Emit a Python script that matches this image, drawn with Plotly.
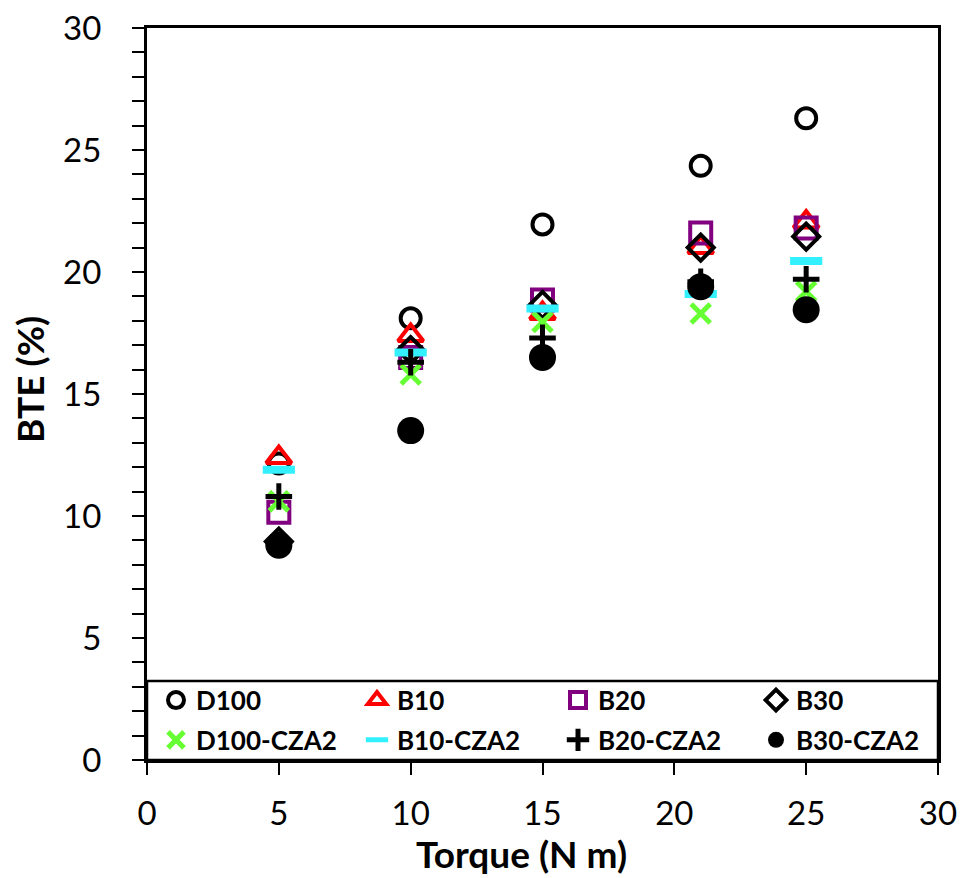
import plotly.graph_objects as go

torque = [5, 10, 15, 21, 25]
names = ["D100", "B10", "B20", "B30", "D100-CZA2", "B10-CZA2", "B20-CZA2", "B30-CZA2"]
d100 = [12.15, 18.1, 21.95, 24.35, 26.3]
b10 = [12.4, 17.4, 18.3, 21.0, 22.05]
b20 = [10.15, 16.5, 18.85, 21.6, 21.8]
b30 = [8.95, 16.8, 18.65, 21.0, 21.45]
d100_cza2 = [10.6, 15.8, 17.95, 18.3, 19.2]
b10_cza2 = [11.9, 16.7, 18.5, 19.1, 20.45]
b20_cza2 = [10.8, 16.3, 17.3, 19.6, 19.7]
b30_cza2 = [8.8, 13.5, 16.5, 19.4, 18.45]
x_title = "Torque (N m)"
y_title = "BTE (%)"

series = [d100, b10, b20, b30, d100_cza2, b10_cza2, b20_cza2, b30_cza2]
styles = [
    dict(symbol="circle-open", size=20, color="black", line=dict(width=4, color="black")),
    dict(symbol="triangle-up-open", size=22, color="red", line=dict(width=4, color="red")),
    dict(symbol="square-open", size=21, color="#800080", line=dict(width=4, color="#800080")),
    dict(symbol="diamond-open", size=20, color="black", line=dict(width=4, color="black")),
    dict(symbol="x-thin", size=19, color="#66FF33", line=dict(width=5, color="#66FF33")),
    dict(symbol="line-ew", size=23, color="#33F0FF", line=dict(width=8, color="#33F0FF")),
    dict(symbol="cross-thin", size=19, color="black", line=dict(width=5, color="black")),
    dict(symbol="circle", size=27, color="black", line=dict(width=0)),
]
# legend column for each series (4 columns, 2 rows)
legend_ids = ["legend", "legend2", "legend3", "legend4"] * 2

fig = go.Figure()
for i in range(8):
    fig.add_trace(go.Scatter(x=torque, y=series[i], mode="markers", name=names[i],
                             marker=styles[i], showlegend=True,
                             legend=legend_ids[i], legendgroup=names[i]))

axis_common = dict(range=[0, 30], dtick=5, showgrid=False, zeroline=False,
                   showline=True, linecolor="black", linewidth=3, mirror=True,
                   ticks="outside", ticklen=12, tickwidth=1.5, tickcolor="black",
                   tickfont=dict(size=33, family="Lato"), automargin=False)

def legend_at(px):
    return dict(orientation="v", x=(px - 147) / 791, y=-0.005, xanchor="left", yanchor="bottom",
                bgcolor="rgba(0,0,0,0)", tracegroupgap=3, traceorder="grouped",
                font=dict(size=26, family="Lato", weight="bold", color="black"), itemwidth=30)

fig.update_layout(
    width=965, height=878,
    margin=dict(l=147, r=27, t=28, b=118),
    paper_bgcolor="white", plot_bgcolor="white",
    font=dict(family="Lato", color="black", size=26),
    xaxis=dict(**axis_common, ticklabelstandoff=10),
    yaxis=dict(**axis_common, ticklabelstandoff=24,
               minor=dict(dtick=1, ticks="outside", ticklen=12, tickwidth=1.5, tickcolor="black")),
    legend=legend_at(156),
    legend2=legend_at(357),
    legend3=legend_at(558),
    legend4=legend_at(756),
    shapes=[dict(type="rect", xref="paper", yref="paper", x0=0, x1=1, y0=0,
                 y1=(760 - 681) / 732, line=dict(color="black", width=2.5),
                 fillcolor="rgba(0,0,0,0)")],
    annotations=[
        dict(text="<b>" + x_title + "</b>", xref="paper", yref="paper",
             x=(521 - 147) / 791, y=(760 - 853) / 732, xanchor="center", yanchor="middle",
             showarrow=False, font=dict(size=37, family="Lato", color="black")),
        dict(text="<b>" + y_title + "</b>", xref="paper", yref="paper",
             x=(29 - 147) / 791, y=(760 - 380) / 732, xanchor="center", yanchor="middle",
             textangle=-90, showarrow=False, font=dict(size=37, family="Lato", color="black")),
    ],
)

fig.write_html("out.html")
